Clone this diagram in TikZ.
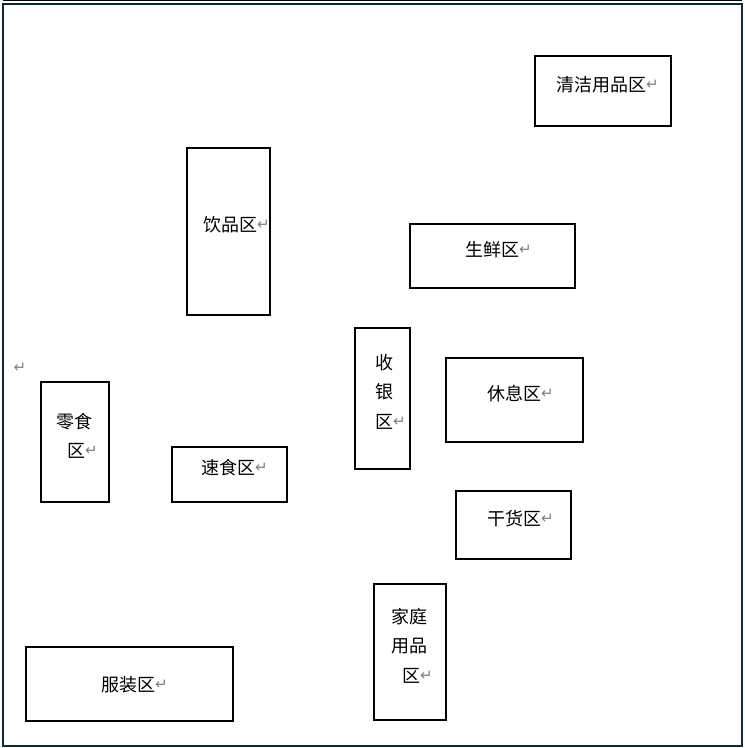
\documentclass[tikz,border=0pt]{standalone}
\usepackage{fontspec}
\usepackage{xcolor}
\newfontfamily\cjk{Noto Sans CJK SC}
\newfontfamily\symfont{DejaVu Sans}
\definecolor{framecol}{HTML}{0F2A33}
% paragraph mark as the word processor shows it
\newcommand\crmark{\raisebox{1.5pt}{\symfont\fontsize{15}{15}\selectfont\textcolor{gray}{↵}}}

\begin{document}
\begin{tikzpicture}[x=1pt,y=-1pt,
    zone/.style={draw, line width=1.5pt, inner sep=0pt},
    lbl/.style={anchor=base west, inner sep=0pt, align=left,
        font=\cjk\fontsize{18}{29.5}\selectfont}]

            \useasboundingbox (0,0) rectangle (745,748);

            % page frame
            \draw[framecol, line width=2pt] (3,4) rectangle (742,746);
            \draw[line width=1.2pt] (3,0.8) -- (742,0.8);

            % zones
            \node[zone, minimum width=136pt, minimum height=70pt] (qj) at (603,91) {};
            \node[zone, minimum width=83pt, minimum height=167pt] (yp) at (228.5,231.5) {};
            \node[zone, minimum width=165pt, minimum height=64pt] (sx) at (492.5,256) {};
            \node[zone, minimum width=55pt, minimum height=141pt] (sy) at (382.5,398.5) {};
            \node[zone, minimum width=137pt, minimum height=84pt] (xx) at (514.5,400) {};
            \node[zone, minimum width=68pt, minimum height=120pt] (ls) at (75,442) {};
            \node[zone, minimum width=115pt, minimum height=55pt] (ss) at (229.5,474.5) {};
            \node[zone, minimum width=115pt, minimum height=68pt] (gh) at (513.5,525) {};
            \node[zone, minimum width=72pt, minimum height=136pt] (jt) at (410,652) {};
            \node[zone, minimum width=207pt, minimum height=74pt] (fz) at (129.5,684) {};

            % labels (multi-line ones sit on their last line)
            \node[lbl] (qj-t) at (556,91) {清洁用品区\crmark};
            \node[lbl] (yp-t) at (203,231) {饮品区\crmark};
            \node[lbl] (sx-t) at (465,256) {生鲜区\crmark};
            \node[lbl] (sy-t) at (375,428) {收\\银\\区\crmark};
            \node[lbl] (xx-t) at (487,400) {休息区\crmark};
            \node[lbl] (ls-t) at (56,457) {零食\\[-0.5pt]\hspace*{11pt}区\crmark};
            \node[lbl] (ss-t) at (201,474) {速食区\crmark};
            \node[lbl] (gh-t) at (487,525) {干货区\crmark};
            \node[lbl] (jt-t) at (391,682) {家庭\\用品\\\hspace*{11pt}区\crmark};
            \node[lbl] (fz-t) at (101,691) {服装区\crmark};

            % stray mark
            \node[inner sep=0pt] (mk) at (20,369) {\crmark};
            \end{tikzpicture}
\end{document}
